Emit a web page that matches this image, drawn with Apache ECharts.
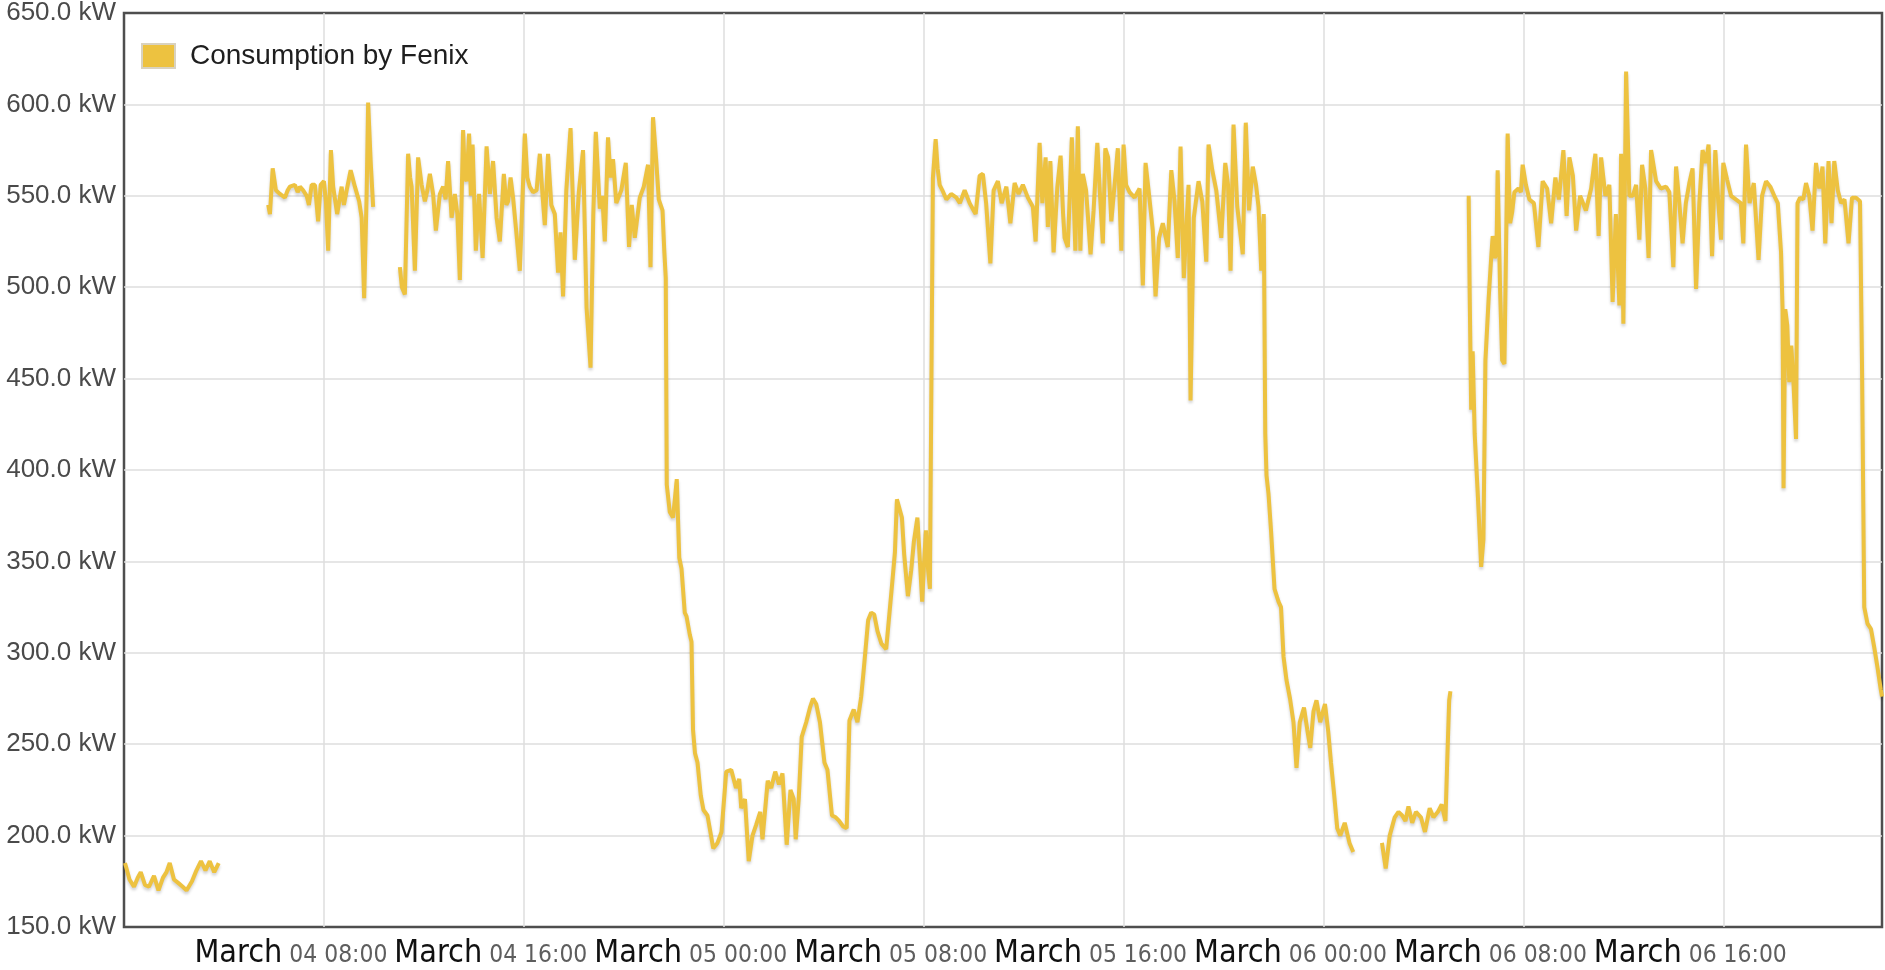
<!DOCTYPE html>
<html>
<head>
<meta charset="utf-8">
<script src="https://cdn.jsdelivr.net/npm/echarts@6/dist/echarts.min.js"></script>
<style>
html,body{margin:0;padding:0;background:#fff;}
#chart{width:1885px;height:970px;}
</style>
</head>
<body>
<div id="chart"></div>
<script>
// Hours since March 04 00:00, and consumption in kW, per continuous run
const night1Hours = [0.04,0.22,0.4,0.55,0.67,0.84,1.0,1.2,1.38,1.56,1.7,1.83,2.0,2.18,2.35,2.5,2.72,2.9,3.08,3.26,3.43,3.61,3.79];
const night1Kw    = [185,176,172,177,180,173,172,178,170,177,180,185,176,174,172,170,175,181,186,181,186,180,185];

const morning1Hours = [5.77,5.84,5.95,6.08,6.24,6.44,6.55,6.64,6.84,6.95,7.04,7.17,7.31,7.4,7.51,7.64,7.77,7.87,8.0,8.08,8.17,8.28,8.37,8.53,8.71,8.8,8.91,9.07,9.24,9.41,9.51,9.61,9.71,9.77,9.87,9.97];
const morning1Kw    = [545,540,565,553,551,549,553,555,556,552,555,553,550,545,556,556,536,556,558,547,520,575,555,540,555,545,553,564,555,547,538,494,551,601,569,544];

const day1Hours = [11.04,11.12,11.24,11.37,11.45,11.51,11.64,11.77,11.91,12.04,12.14,12.24,12.37,12.48,12.64,12.77,12.87,12.97,13.11,13.24,13.34,13.44,13.57,13.64,13.71,13.81,13.88,13.95,14.08,14.21,14.35,14.51,14.64,14.77,14.91,15.04,15.2,15.3,15.37,15.47,15.57,15.7,15.84,16.04,16.14,16.24,16.37,16.51,16.64,16.75,16.84,16.97,17.1,17.24,17.37,17.47,17.57,17.7,17.87,18.04,18.2,18.37,18.51,18.67,18.78,18.88,19.04,19.14,19.24,19.37,19.47,19.57,19.7,19.9,20.08,20.21,20.32,20.44,20.64,20.8,20.97,21.07,21.17,21.3,21.4,21.55,21.62];
const day1Kw    = [511,500,496,573,560,555,509,571,556,547,553,562,551,531,551,555,548,569,538,551,540,504,586,560,558,584,550,578,520,551,516,577,551,569,538,525,562,545,547,560,549,530,509,584,560,555,552,553,573,550,534,573,545,540,508,530,495,553,587,515,552,575,489,456,540,585,543,550,525,582,560,570,546,553,568,522,545,527,549,555,567,511,593,569,548,542,520];

const night2Hours = [21.68,21.72,21.84,21.97,22.05,22.12,22.22,22.31,22.44,22.51,22.64,22.71,22.77,22.85,22.95,23.08,23.19,23.35,23.58,23.75,23.91,24.1,24.3,24.49,24.62,24.7,24.85,25.0,25.15,25.3,25.46,25.55,25.76,25.9,26.06,26.21,26.35,26.52,26.67,26.8,26.88,27.0,27.12,27.3,27.45,27.57,27.7,27.85,28.03,28.15,28.33,28.48,28.62,28.78,28.92,29.03,29.2,29.35,29.5,29.59,29.78,29.9,30.02,30.15,30.31,30.5,30.62,30.74,30.85,30.93,31.05,31.13,31.22,31.37,31.5,31.61,31.75,31.85,31.94,32.02,32.09,32.18,32.25];
const night2Kw    = [505,392,377,374,385,395,352,346,322,320,310,306,258,245,240,222,214,211,193,196,202,235,236,226,231,215,220,186,200,206,213,198,230,226,235,228,234,195,225,220,198,220,254,262,270,275,272,262,240,236,211,210,208,205,204,263,269,262,276,289,318,322,321,312,305,302,320,338,355,384,378,374,354,331,345,361,374,350,328,350,367,345,335];

const day2Hours = [32.37,32.48,32.56,32.64,32.75,32.91,33.1,33.31,33.45,33.64,33.84,34.0,34.08,34.24,34.37,34.5,34.67,34.8,34.97,35.12,35.31,35.47,35.64,35.8,35.97,36.17,36.37,36.48,36.64,36.75,36.88,36.97,37.07,37.2,37.35,37.48,37.58,37.64,37.77,37.93,38.07,38.17,38.27,38.37,38.5,38.68,38.8,38.95,39.05,39.17,39.27,39.38,39.51,39.64,39.77,39.91,40.0,40.1,40.24,40.44,40.64,40.77,40.88,41.0,41.17,41.28,41.42,41.57,41.77,41.91,42.04,42.17,42.28,42.41,42.6,42.68,42.81,43.0,43.15,43.31,43.4,43.55,43.71,43.91,44.07,44.18,44.28,44.4,44.55,44.77,44.89,45.02,45.17,45.3,45.4,45.51,45.61];
const day2Kw    = [560,581,565,556,553,548,551,549,546,553,546,542,540,561,562,546,513,553,558,546,555,535,557,551,556,549,544,525,579,546,571,533,569,519,555,572,540,527,522,582,520,588,520,562,553,518,542,579,552,524,576,571,536,556,576,520,578,556,552,549,554,501,568,553,531,495,527,535,522,564,547,516,577,505,556,438,538,558,547,514,578,564,553,527,568,556,509,589,544,518,590,542,566,556,544,509,540];

const evening2Hours = [45.67,45.72,45.8,45.9,46.04,46.2,46.3,46.4,46.52,46.66,46.8,46.92,47.05,47.22,47.35,47.47,47.6,47.72,47.87,47.98,48.06,48.19,48.3,48.43,48.55,48.67,48.85,49.04,49.19];
const evening2Kw    = [420,397,387,367,335,328,325,298,285,275,262,237,262,270,258,248,268,274,262,268,272,257,240,222,204,200,207,196,191];

const night3Hours = [50.34,50.49,50.65,50.85,51.0,51.15,51.28,51.4,51.55,51.7,51.9,52.06,52.25,52.4,52.58,52.73,52.88,52.95,53.03,53.08];
const night3Kw    = [196,182,200,210,213,211,208,216,207,213,210,202,215,210,213,217,208,240,274,279];

const day3Hours = [53.81,53.85,53.91,53.97,54.05,54.17,54.31,54.4,54.48,54.61,54.71,54.77,54.85,54.92,54.97,55.07,55.15,55.24,55.3,55.37,55.47,55.55,55.64,55.8,55.9,55.97,56.1,56.24,56.42,56.6,56.77,56.95,57.11,57.28,57.42,57.6,57.73,57.84,57.98,58.11,58.27,58.5,58.71,58.88,59.01,59.11,59.28,59.44,59.57,59.7,59.84,59.91,60.0,60.11,60.24,60.38,60.51,60.64,60.75,60.88,61.01,61.11,61.31,61.5,61.71,61.84,62.0,62.11,62.24,62.37,62.5,62.64,62.77,62.91,63.04,63.17,63.3,63.41,63.55,63.68,63.8,63.91,64.0,64.15,64.31,64.5,64.7,64.8,64.91,65.05,65.22,65.41,65.55,65.71,65.88,66.04,66.18,66.31,66.37,66.41,66.48,66.56,66.64,66.72,66.8,66.91,66.97,67.07,67.2,67.31,67.44,67.57,67.71,67.84,67.97,68.08,68.21,68.33,68.44,68.58,68.71,68.85,69.01,69.15,69.31,69.47,69.55,69.64,69.77,69.91,70.04,70.17,70.3,70.35];
const day3Kw    = [550,497,433,465,420,388,347,362,460,494,516,528,516,518,564,497,460,458,516,584,535,541,552,554,552,567,556,548,546,522,558,554,535,560,548,575,539,571,561,531,550,542,554,573,528,571,550,556,492,540,490,573,480,618,550,550,556,526,567,554,516,575,558,554,555,552,511,566,546,524,546,557,565,499,546,575,568,578,517,575,546,526,568,559,550,548,546,524,578,546,557,515,550,558,555,550,546,519,488,390,488,479,448,468,450,417,546,549,548,557,550,531,568,554,566,524,569,535,569,553,546,548,524,549,549,547,457,325,316,313,303,292,280,276];

const yTicks = [150,200,250,300,350,400,450,500,550,600,650];
const monthLabel = 'March';
const seriesName = 'Consumption by Fenix';

// runs separated by gaps in the record
const runs = [
  [[night1Hours, night1Kw]],
  [[morning1Hours, morning1Kw]],
  [[day1Hours, day1Kw],[night2Hours, night2Kw],[day2Hours, day2Kw],[evening2Hours, evening2Kw]],
  [[night3Hours, night3Kw]],
  [[day3Hours, day3Kw]]
];
const data = [];
runs.forEach((run, ri) => {
  run.forEach(([hs, vs]) => { hs.forEach((h, i) => data.push([h, vs[i]])); });
  if (ri < runs.length - 1) {
    const lastH = data[data.length - 1][0];
    data.push([lastH + 0.01, '-']);
  }
});

function hasFont(name) {
  const c = document.createElement('canvas').getContext('2d');
  c.font = '40px monospace';
  const a = c.measureText('MarchWwil0123').width;
  c.font = '40px "' + name + '", monospace';
  const b = c.measureText('MarchWwil0123').width;
  return Math.abs(a - b) > 0.5;
}
let narrow = 'Liberation Sans';
if (hasFont('Liberation Sans Narrow')) narrow = 'Liberation Sans Narrow';
else if (hasFont('DejaVu Sans Condensed')) narrow = 'DejaVu Sans Condensed';
function fitSize(text, family, target) {
  const c = document.createElement('canvas').getContext('2d');
  c.font = '100px "' + family + '"';
  return Math.round(100 * target / c.measureText(text).width * 10) / 10;
}
const sizeMonth = fitSize('March', narrow, 88);
const sizeTime = fitSize('04 08:00', narrow, 98);

const chart = echarts.init(document.getElementById('chart'), null, {renderer: 'canvas'});
chart.setOption({
  animation: false,
  backgroundColor: '#ffffff',
  grid: {left: 124, right: 2, top: 12, bottom: 43, show: true, borderColor: '#4e4e4e', borderWidth: 2.5, backgroundColor: 'transparent'},
  legend: {
    left: 136, top: 37,
    itemWidth: 33, itemHeight: 24,
    data: [{name: seriesName, icon: 'rect', itemStyle: {color: '#edc240', borderColor: '#d9d2bf', borderWidth: 2}}],
    textStyle: {fontSize: 28, color: '#1e1e1e', fontFamily: 'Liberation Sans, Arial, sans-serif', padding: [0, 0, 0, 10]}
  },
  xAxis: {
    type: 'value', min: 0, max: 70.35, interval: 8,
    axisLine: {show: false}, axisTick: {show: false},
    splitLine: {show: true, showMinLine: false, showMaxLine: false, lineStyle: {color: '#dedede', width: 1.5}},
    axisLabel: {
      margin: 3,
      padding: [0, 66, 0, 0],
      formatter: function (v) {
        if (v <= 0 || Math.abs(v / 8 - Math.round(v / 8)) > 1e-6) return '';
        const day = 4 + Math.floor(v / 24);
        const hh = Math.round(v % 24);
        return '{m|' + monthLabel + '}{t| ' + (day < 10 ? '0' : '') + day + ' ' + (hh < 10 ? '0' : '') + hh + ':00}';
      },
      rich: {
        m: {fontFamily: narrow, fontSize: sizeMonth, color: '#111111', lineHeight: 40, verticalAlign: 'bottom'},
        t: {fontFamily: narrow, fontSize: sizeTime, color: '#5e5e5e', lineHeight: 40, verticalAlign: 'bottom', padding: [0, 0, 2, 0]}
      }
    }
  },
  yAxis: {
    type: 'value', min: yTicks[0], max: yTicks[yTicks.length - 1], interval: 50,
    axisLine: {show: false}, axisTick: {show: false},
    splitLine: {show: true, showMinLine: false, showMaxLine: false, lineStyle: {color: '#dedede', width: 1.5}},
    axisLabel: {
      margin: 8, fontSize: 26, color: '#4a4a4a', fontFamily: 'Liberation Sans, Arial, sans-serif',
      formatter: function (v) { return v.toFixed(1) + ' kW'; }
    }
  },
  series: [{
    name: seriesName,
    type: 'line',
    data: data,
    showSymbol: false,
    connectNulls: false,
    color: '#edc240',
    lineStyle: {color: '#edc240', width: 4, shadowColor: 'rgba(0,0,0,0.18)', shadowBlur: 3, shadowOffsetY: 2.5},
    emphasis: {disabled: true}
  }]
});
</script>
</body>
</html>
